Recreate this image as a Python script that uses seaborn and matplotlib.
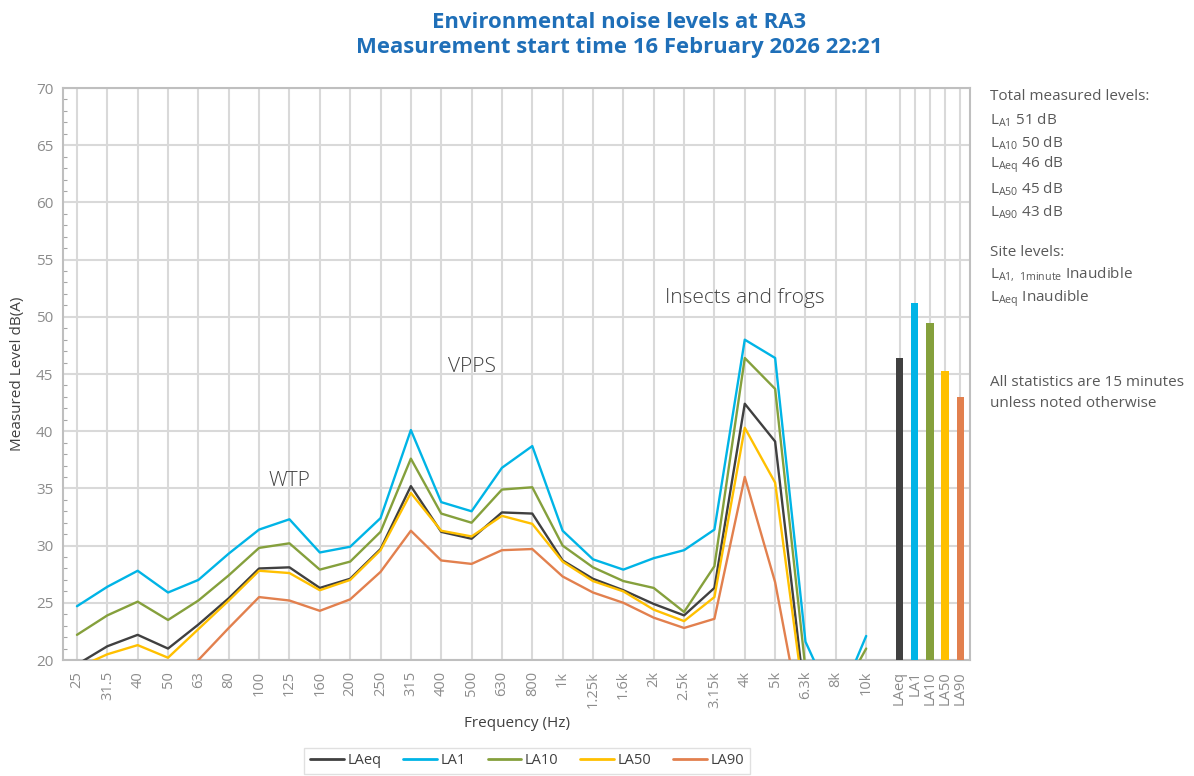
import numpy as np
import pandas as pd
import matplotlib
matplotlib.use("Agg")
import matplotlib.pyplot as plt
from matplotlib.ticker import MultipleLocator
from matplotlib.lines import Line2D
import seaborn as sns

# ---------------- data ----------------
freq_labels = ["25", "31.5", "40", "50", "63", "80", "100", "125", "160", "200", "250",
               "315", "400", "500", "630", "800", "1k", "1.25k", "1.6k", "2k", "2.5k",
               "3.15k", "4k", "5k", "6.3k", "8k", "10k"]
LAeq = [19.6, 21.2, 22.2, 21.0, 23.1, 25.4, 28.0, 28.1, 26.3, 27.1, 29.7,
        35.2, 31.2, 30.6, 32.9, 32.8, 28.7, 27.1, 26.1, 24.9, 23.9,
        26.3, 42.4, 39.1, 16.2, 14.5, 17.5]
LA1 = [24.7, 26.4, 27.8, 25.9, 27.0, 29.3, 31.4, 32.3, 29.4, 29.9, 32.4,
       40.1, 33.8, 33.0, 36.8, 38.7, 31.3, 28.8, 27.9, 28.9, 29.6,
       31.4, 48.0, 46.4, 21.6, 15.8, 22.1]
LA10 = [22.2, 23.9, 25.1, 23.5, 25.2, 27.4, 29.8, 30.2, 27.9, 28.6, 31.2,
        37.6, 32.8, 32.0, 34.9, 35.1, 30.0, 28.1, 26.9, 26.3, 24.2,
        28.2, 46.4, 43.7, 19.2, 16.2, 21.0]
LA50 = [19.3, 20.5, 21.3, 20.2, 22.7, 25.2, 27.8, 27.6, 26.1, 27.0, 29.6,
        34.6, 31.3, 30.8, 32.6, 31.9, 28.6, 26.9, 26.0, 24.4, 23.4,
        25.5, 40.3, 35.5, 15.6, 13.5, 16.0]
LA90 = [17.5, 18.3, 18.9, 17.8, 20.0, 22.8, 25.5, 25.2, 24.3, 25.3, 27.7,
        31.3, 28.7, 28.4, 29.6, 29.7, 27.3, 25.9, 25.0, 23.7, 22.8,
        23.6, 36.0, 26.8, 12.7, 11.0, 13.0]
series_names = ["LAeq", "LA1", "LA10", "LA50", "LA90"]
totals = [46.4, 51.2, 49.5, 45.3, 43.0]
colors = ["#404040", "#00B4E6", "#85A03C", "#FFC000", "#E2804E"]

title_lines = ["Environmental noise levels at RA3",
               "Measurement start time 16 February 2026 22:21"]

# ---------------- style ----------------
sns.set_theme(style="white")
plt.rcParams["font.family"] = ["Open Sans", "DejaVu Sans"]
plt.rcParams["mathtext.fontset"] = "custom"
plt.rcParams["mathtext.rm"] = "Open Sans"

fig = plt.figure(figsize=(11.94, 7.76), dpi=100)
ax = fig.add_axes([63 / 1194, 1 - 660 / 776, (970 - 63) / 1194, (660 - 88) / 776])

xf = np.arange(len(freq_labels), dtype=float)
bar_x = 27.1 + 0.5 * np.arange(len(series_names))

all_series = [LAeq, LA1, LA10, LA50, LA90]
df = pd.concat([pd.DataFrame({"x": xf, "level": s, "series": n})
                for n, s in zip(series_names, all_series)], ignore_index=True)
palette = dict(zip(series_names, colors))

sns.lineplot(data=df, x="x", y="level", hue="series", palette=palette,
             hue_order=series_names, linewidth=1.7, legend=False, ax=ax, zorder=3)

for xb, v, c in zip(bar_x, totals, colors):
    ax.bar(xb, v - 20, bottom=20, width=0.24, color=c, zorder=3, linewidth=0)

ax.set_xlim(-0.46, 29.42)
ax.set_ylim(20, 70)
ax.yaxis.set_major_locator(MultipleLocator(5))
ax.yaxis.set_minor_locator(MultipleLocator(1))

ax.set_xticks(list(xf) + list(bar_x))
ax.set_xticklabels(freq_labels + series_names, rotation=90)

grid_c = "#D9D9D9"
ax.grid(True, which="major", color=grid_c, linewidth=1.5, zorder=0)
for sp in ax.spines.values():
    sp.set_color("#BFBFBF")
    sp.set_linewidth(1.5)
    sp.set_visible(True)

ax.tick_params(axis="x", which="major", length=0, labelsize=10.5, labelcolor="#8C8C8C", pad=8)
ax.tick_params(axis="y", which="major", length=0, labelsize=11, labelcolor="#8C8C8C", pad=7)
ax.tick_params(axis="y", which="minor", direction="in", length=3, width=0.8,
               color="#A6A6A6", left=True)

ax.set_xlabel("Frequency (Hz)", fontsize=11, color="#404040", labelpad=6)
ax.set_ylabel("Measured Level dB(A)", fontsize=11, color="#404040", labelpad=8)

# annotations
ann_c = "#404040"
ax.text(7.0, 35.65, "WTP", fontsize=15, color=ann_c, ha="center", va="center", fontweight="light")
ax.text(13.0, 45.6, "VPPS", fontsize=15, color=ann_c, ha="center", va="center", fontweight="light")
ax.text(22.0, 51.6, "Insects and frogs", fontsize=15, color=ann_c, ha="center", va="center",
        fontweight="light")

# title
tcx = 619 / 1194
fig.text(tcx, 1 - 22 / 776, title_lines[0], ha="center", va="center", fontsize=15.9,
         fontweight="bold", color="#1F6FB8")
fig.text(tcx, 1 - 48 / 776, title_lines[1], ha="center", va="center", fontsize=15.9,
         fontweight="bold", color="#1F6FB8")

# right-side text
tc = "#595959"
tx = 990 / 1194
def fy(py):
    return 1 - py / 776
side = [
    (97, "Total measured levels:"),
    (120, r"L$_{\mathregular{A1}}$ 51 dB"),
    (143, r"L$_{\mathregular{A10}}$ 50 dB"),
    (165, r"L$_{\mathregular{Aeq}}$ 46 dB"),
    (189, r"L$_{\mathregular{A50}}$ 45 dB"),
    (212, r"L$_{\mathregular{A90}}$ 43 dB"),
    (252, "Site levels:"),
    (275, r"L$_{\mathregular{A1,\ 1minute}}$ Inaudible"),
    (299, r"L$_{\mathregular{Aeq}}$ Inaudible"),
    (383, "All statistics are 15 minutes"),
    (403, "unless noted otherwise"),
]
for py, s in side:
    fig.text(tx, fy(py), s, fontsize=11, color=tc, ha="left", va="center")

# legend
handles = [Line2D([0], [0], color=c, lw=2) for c in colors]
leg = fig.legend(handles, series_names, loc="center", bbox_to_anchor=(527 / 1194, 1 - 761 / 776),
                 ncol=5, frameon=True, fontsize=10.5, handlelength=2.3, columnspacing=1.5,
                 handletextpad=0.25, borderpad=0.4)
leg.get_frame().set_edgecolor("#D9D9D9")
leg.get_frame().set_linewidth(1.0)
leg.get_frame().set_boxstyle("square", pad=0)
for t in leg.get_texts():
    t.set_color("#404040")

fig.savefig("out.png", dpi=100)
